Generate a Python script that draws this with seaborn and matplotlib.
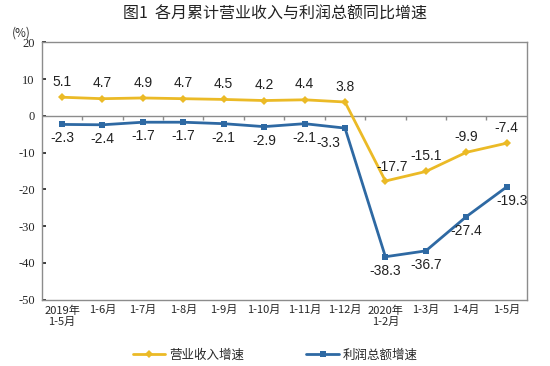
import numpy as np
import pandas as pd
import matplotlib
matplotlib.use('Agg')
import matplotlib.pyplot as plt
import seaborn as sns

# data
periods = ['2019年\n1-5月', '1-6月', '1-7月', '1-8月', '1-9月', '1-10月', '1-11月',
           '1-12月', '2020年\n1-2月', '1-3月', '1-4月', '1-5月']
revenue = [5.1, 4.7, 4.9, 4.7, 4.5, 4.2, 4.4, 3.8, -17.7, -15.1, -9.9, -7.4]
profit = [-2.3, -2.4, -1.7, -1.7, -2.1, -2.9, -2.1, -3.3, -38.3, -36.7, -27.4, -19.3]
series_names = ['营业收入增速', '利润总额增速']
yticks = [20, 10, 0, -10, -20, -30, -40, -50]

sns.set_theme(style='white')
plt.rcParams['font.family'] = ['Noto Sans CJK SC', 'DejaVu Sans']
plt.rcParams['axes.unicode_minus'] = False

gold = '#EBBA26'
blue = '#2E69A3'
grey = '#8C8C8C'

df = pd.DataFrame({'x': np.arange(len(periods)), 'revenue': revenue, 'profit': profit})

fig = plt.figure(figsize=(5.5, 3.66), dpi=100)
ax = fig.add_axes([0.076, 0.181, 0.882, 0.703])

sns.lineplot(data=df, x='x', y='revenue', ax=ax, color=gold, marker='D',
             markersize=4, markeredgewidth=0, linewidth=2, label=series_names[0])
sns.lineplot(data=df, x='x', y='profit', ax=ax, color=blue, marker='s',
             markersize=4, markeredgewidth=0, linewidth=2, label=series_names[1])

ax.set_xlim(-0.5, len(periods) - 0.5)
ax.set_ylim(-50, 20)
ax.set_yticks(yticks)
ax.set_yticklabels([str(v) for v in yticks], family='Liberation Serif', fontsize=9)
ax.set_xticks(df['x'])
ax.set_xticklabels(periods, fontsize=8, linespacing=1.2)
ax.tick_params(axis='x', length=0, pad=4)
ax.tick_params(axis='y', length=3, direction='in', left=True, pad=5)
ax.set_xlabel('')
ax.set_ylabel('')
for s in ax.spines.values():
    s.set_color(grey)
    s.set_linewidth(1)

# zero line with category boundary ticks
ax.axhline(0, color=grey, linewidth=1, zorder=1)
ax.vlines(df['x'][:-1] + 0.5, -1.0, 0, color=grey, linewidth=1, zorder=1)

# value labels
lbl_font = dict(fontsize=10, family='Liberation Sans', color='#222222')
for i, v in enumerate(revenue):
    dx, dy = (0, 6)
    if i == 8:
        dx, dy = (5, 5)
    ax.annotate(f'{v:.1f}', (i, v), xytext=(dx, dy), textcoords='offset points',
                ha='center', va='bottom', **lbl_font)
for i, v in enumerate(profit):
    dx, dy = (0, -5)
    if i == 7:
        dx, dy = (-12, -6)
    if i == 11:
        dx, dy = (4, -5)
    ax.annotate(f'{v:.1f}', (i, v), xytext=(dx, dy), textcoords='offset points',
                ha='center', va='top', **lbl_font)

fig.suptitle('图1  各月累计营业收入与利润总额同比增速', x=0.5, y=0.985,
             fontsize=11.5, color='#222222')
fig.text(0.038, 0.91, '(%)', fontsize=8.5, ha='center', va='center', color='#333333')

ax.get_legend().remove()
handles, labels = ax.get_legend_handles_labels()
fig.legend(handles, labels, loc='center', bbox_to_anchor=(0.5, 0.03), ncol=2,
           frameon=False, fontsize=9, handlelength=2.6, columnspacing=5,
           handletextpad=0.3)

fig.savefig('out.png', dpi=100)
